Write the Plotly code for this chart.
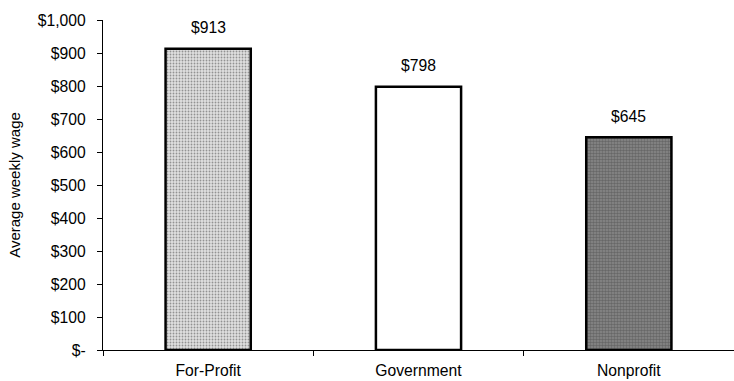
import plotly.graph_objects as go

categories = ["For-Profit", "Government", "Nonprofit"]
wages = [913, 798, 645]
label_texts = ["$913", "$798", "$645"]
ytick_vals = [0, 100, 200, 300, 400, 500, 600, 700, 800, 900, 1000]
ytick_text = ["$-", "$100", "$200", "$300", "$400", "$500", "$600", "$700", "$800", "$900", "$1,000"]

FONT = "Liberation Sans, Arial, sans-serif"
FS = 15.7

fig = go.Figure()
fig.add_trace(go.Bar(
    x=categories,
    y=wages,
    width=0.405,
    marker=dict(
        color=["#e0e0e0", "#ffffff", "#8a8a8a"],
        line=dict(color="black", width=2.5),
        pattern=dict(
            shape=[".", "", "."],
            fgcolor=["#b4b4b4", "#ffffff", "#3a3a3a"],
            bgcolor=["#e6e6e6", "#ffffff", "#a8a8a8"],
            size=[3, 3, 3],
            solidity=[0.3, 0.3, 0.55],
        ),
    ),
    hoverinfo="skip",
))

for c, v, t in zip(categories, wages, label_texts):
    fig.add_annotation(x=c, y=v, text=t, showarrow=False, yshift=21,
                       font=dict(family=FONT, size=FS, color="black"))

fig.update_layout(
    width=734, height=381,
    margin=dict(l=103, r=0, t=20, b=31),
    paper_bgcolor="white", plot_bgcolor="white",
    showlegend=False,
    font=dict(family=FONT, size=FS, color="black"),
)
fig.update_xaxes(
    type="category",
    showline=True, linecolor="black", linewidth=1.2,
    ticks="outside", ticklen=5, tickcolor="black", tickwidth=1.2,
    tickson="boundaries",
    showgrid=False, zeroline=False,
    tickfont=dict(family=FONT, size=FS),
    ticklabelstandoff=6,
)
fig.update_yaxes(
    range=[0, 1000],
    tickvals=ytick_vals, ticktext=ytick_text,
    showline=True, linecolor="black", linewidth=1.2,
    ticks="outside", ticklen=5, tickcolor="black", tickwidth=1.2,
    showgrid=False, zeroline=False,
    tickfont=dict(family=FONT, size=FS),
    ticklabelstandoff=8,
    title=dict(text="Average weekly wage", font=dict(family=FONT, size=15), standoff=13),
)

fig.write_html("out.html")
